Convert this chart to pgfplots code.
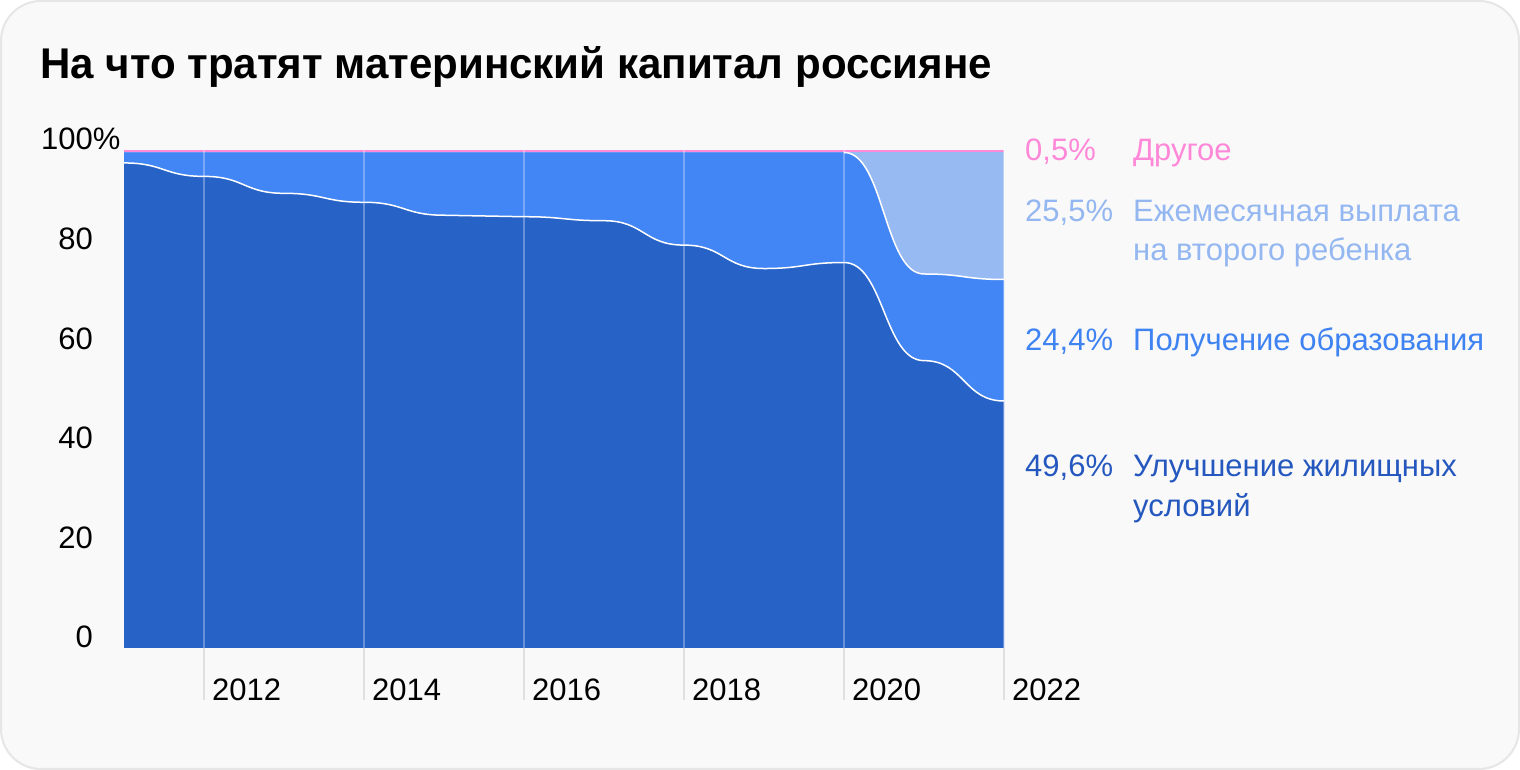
\documentclass[border=0pt]{standalone}
\usepackage{pgfplots}
\usepackage{pgfplotstable}
\pgfplotsset{compat=1.18}
\usepackage{fontspec}
\setmainfont{Liberation Sans}
\newfontfamily\titlefont{Liberation Sans}[FakeStretch=0.978]
\definecolor{bg}{HTML}{F9F9F9}
\definecolor{bord}{HTML}{E6E6E6}
\definecolor{cdark}{HTML}{2762C6}
\definecolor{cmid}{HTML}{4285F4}
\definecolor{clight}{HTML}{98BAF2}
\definecolor{cpink}{HTML}{FF8AD8}
\definecolor{tdark}{HTML}{2558BF}
\definecolor{tmid}{HTML}{3F83F2}
\definecolor{tlight}{HTML}{94B7F1}
\definecolor{tpink}{HTML}{FF88D8}
\definecolor{tickgray}{HTML}{E0E0E0}

\makeatletter
\def\pgfplothandlerbumpx{%
  \def\pgf@plotstreamstart{%
    \global\let\pgf@plotstreampoint=\bumpx@first
    \global\let\pgf@plotstreamspecial=\pgfutil@gobble
    \global\let\pgf@plotstreamend=\pgfutil@empty
  }%
}
\def\bumpx@first#1{%
  \pgf@process{#1}%
  \xdef\bumpx@lastx{\the\pgf@x}\xdef\bumpx@lasty{\the\pgf@y}%
  \pgf@plot@first@action{\pgfqpoint{\bumpx@lastx}{\bumpx@lasty}}%
  \global\let\pgf@plotstreampoint=\bumpx@next
}
\def\bumpx@next#1{%
  \pgf@process{#1}%
  \edef\bumpx@x{\the\pgf@x}\edef\bumpx@y{\the\pgf@y}%
  \dimen@=\bumpx@lastx\relax
  \advance\dimen@ by \pgf@x
  \divide\dimen@ by 2
  \edef\bumpx@mx{\the\dimen@}%
  \pgfpathcurveto{\pgfqpoint{\bumpx@mx}{\bumpx@lasty}}{\pgfqpoint{\bumpx@mx}{\bumpx@y}}{\pgfqpoint{\bumpx@x}{\bumpx@y}}%
  \global\let\bumpx@lastx=\bumpx@x
  \global\let\bumpx@lasty=\bumpx@y
}
\tikzset{bumpx/.code={\let\tikz@plot@handler=\pgfplothandlerbumpx}}
\makeatother

\pgfplotstableread{
year housing
2011 97.4
2012 94.7
2013 91.3
2014 89.5
2015 86.9
2016 86.6
2017 85.8
2018 80.9
2019 76.2
2020 77.4
2021 57.7
2022 49.6
}\housing
\pgfplotstableread{
year edu
2011 99.5
2012 99.5
2013 99.5
2014 99.5
2015 99.5
2016 99.5
2017 99.5
2018 99.5
2019 99.5
2020 99.5
2021 75.1
2022 74.0
}\edu
\pgfplotstableread{
year edu
2020 99.5
2021 75.1
2022 74.0
}\edutail
\pgfplotstableread{
year monthly
2011 99.5
2022 99.5
}\monthly
\pgfplotstableread{
year other
2011 100
2022 100
}\other

\newcommand\lbl{\fontsize{31}{36}\selectfont}

\begin{document}
\begin{tikzpicture}
\fill[white] (0pt,0pt) rectangle (1520pt,770pt);
\draw[bord, fill=bg, line width=2pt, rounded corners=40pt] (1pt,1pt) rectangle (1519pt,769pt);
\node[anchor=base west, inner sep=0pt, font=\titlefont\bfseries\fontsize{43}{50}\selectfont] at (40pt,691pt) {На что тратят материнский капитал россияне};
\begin{axis}[
  at={(124pt,122pt)}, anchor=south west,
  scale only axis, width=880pt, height=498pt,
  xmin=2011, xmax=2022, ymin=0, ymax=100,
  axis line style={draw=none},
  xtick={2012,2014,...,2022},
  xticklabels={2012,2014,2016,2018,2020,2022},
  ytick={0,20,...,100},
  yticklabels={0,20,40,60,80,100\rlap{\%}},
  tick pos=left,
  tick align=outside, major tick length=52pt,
  xtick style={draw=tickgray, line width=2pt},
  ytick style={draw=none},
  xmajorgrids,
  major x grid style={white, opacity=0.3, line width=2pt},
  axis on top,
  tick label style={font=\lbl, inner sep=0pt},
  xticklabel style={anchor=base west, xshift=8pt, yshift=0pt},
  yticklabel style={anchor=base east, xshift=21pt},
]
\addplot[fill=cpink, draw=none] table[x=year,y=other] {\other} \closedcycle;
\addplot[fill=clight, draw=none] table[x=year,y=monthly] {\monthly} \closedcycle;
\addplot[fill=cmid, draw=none, bumpx] table[x=year,y=edu] {\edu} \closedcycle;
\addplot[white, line width=1.5pt, bumpx] table[x=year,y=edu] {\edutail};
\addplot[fill=cdark, draw=none, bumpx] table[x=year,y=housing] {\housing} \closedcycle;
\addplot[white, line width=1.5pt, bumpx] table[x=year,y=housing] {\housing};
\end{axis}
\begin{scope}[every node/.style={anchor=base west, inner sep=0pt, font=\lbl}]
\node[text=tpink] at (1025pt,609.5pt) {0,5\%};
\node[text=tpink] at (1133pt,609.5pt) {Другое};
\node[text=tlight] at (1025pt,548.5pt) {25,5\%};
\node[text=tlight] at (1133pt,548.5pt) {Ежемесячная выплата};
\node[text=tlight] at (1133pt,509.5pt) {на второго ребенка};
\node[text=tmid] at (1025pt,419.5pt) {24,4\%};
\node[text=tmid] at (1133pt,419.5pt) {Получение образования};
\node[text=tdark] at (1025pt,293.5pt) {49,6\%};
\node[text=tdark] at (1133pt,293.5pt) {Улучшение жилищных};
\node[text=tdark] at (1133pt,253.5pt) {условий};
\end{scope}
\end{tikzpicture}
\end{document}
